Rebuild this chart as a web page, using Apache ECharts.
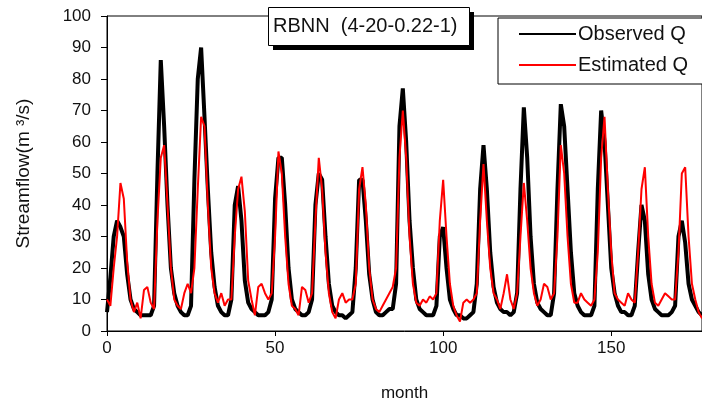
<!DOCTYPE html>
<html>
<head>
<meta charset="utf-8">
<script src="https://cdn.jsdelivr.net/npm/echarts@6/dist/echarts.min.js"></script>
<style>
html,body{margin:0;padding:0;background:#fff;}
#chart{width:702px;height:408px;}
</style>
</head>
<body>
<div id="chart"></div>
<script>
// Observed streamflow, months 0..177
const observed = [
  6,17,30,35,33,30,18,10,7,6,
  5,5,5,5,8,50,86,65,40,20,
  12,8,6,5,5,8,48,80,90,68,
  45,25,14,8,6,5,5,10,40,46,
  35,16,9,7,6,5,5,5,6,10,
  42,55,55,40,20,10,7,6,5,5,
  6,10,40,50,48,30,15,8,6,5,
  5,4,5,6,20,48,48,35,18,10,
  6,5,5,6,7,7,15,65,77,60,
  35,20,10,7,6,5,5,5,8,30,
  33,20,10,7,5,5,4,4,5,6,
  15,45,59,45,25,14,9,7,6,6,
  5,6,12,45,71,55,30,15,9,7,
  6,5,5,12,45,72,65,45,25,12,
  8,6,5,5,5,8,45,70,60,40,
  20,12,8,6,6,5,5,8,25,40,
  35,18,10,7,6,5,5,5,6,8,
  30,35,28,15,10,8,6,5
];
// Estimated streamflow, months 0..177
const estimated = [
  10,8,20,30,47,42,22,10,6,9,
  4,13,14,9,7,35,55,59,40,20,
  10,8,7,12,15,12,20,45,68,65,
  40,20,12,9,12,8,10,10,30,45,
  49,38,16,10,5,14,15,12,10,12,
  30,57,50,30,15,8,7,5,14,13,
  9,12,35,55,45,25,12,6,4,10,
  12,9,10,10,15,45,52,40,20,10,
  7,6,8,10,12,14,20,55,70,55,
  30,15,9,8,10,9,11,10,12,35,
  48,30,15,8,5,3,9,10,9,10,
  12,35,53,35,20,12,10,7,12,18,
  10,7,12,30,47,35,20,12,8,10,
  15,14,10,12,30,59,50,30,15,9,
  9,12,10,9,8,10,25,55,68,45,
  25,12,10,9,8,12,10,9,25,45,
  52,30,15,9,8,10,12,11,10,10,
  25,50,52,30,15,10,6,4
];
const xTicks = [0, 50, 100, 150];
const yTicks = [0,10,20,30,40,50,60,70,80,90,100];
const titleText = 'RBNN  (4-20-0.22-1)';
const seriesNames = ['Observed Q', 'Estimated Q'];

const obsData = observed.map((v, i) => [i, v]);
const estData = estimated.map((v, i) => [i, v]);
const FONT = '"Liberation Sans", Arial, sans-serif';

const chart = echarts.init(document.getElementById('chart'));
chart.setOption({
  animation: false,
  backgroundColor: '#fff',
  textStyle: { fontFamily: FONT, color: '#111' },
  graphic: {
    elements: [
      { type: 'rect', left: 273, top: 12, z: 100, silent: true,
        shape: { width: 201, height: 38 },
        style: { fill: '#000' } },
      { type: 'rect', left: 268, top: 7, z: 101, silent: true,
        shape: { width: 201, height: 38 },
        style: { fill: '#fff', stroke: '#000', lineWidth: 1 } }
    ]
  },
  title: {
    text: titleText,
    left: 268, top: 7, z: 200,
    padding: [9, 12, 9, 5],
    textStyle: { fontFamily: FONT, fontSize: 20, fontWeight: 'normal', color: '#111' }
  },
  legend: {
    data: seriesNames,
    orient: 'vertical',
    left: 498, top: 18,
    padding: [6, 20, 9, 20],
    itemGap: 11,
    itemWidth: 57, itemHeight: 14,
    itemStyle: { opacity: 0 },
    backgroundColor: '#fff',
    borderColor: '#000', borderWidth: 1,
    textStyle: { fontFamily: FONT, fontSize: 20, color: '#111', padding: [0,0,0,-3] }
  },
  grid: { left: 107, top: 16, right: -1, bottom: 77, show: true, borderColor: '#000', borderWidth: 1, backgroundColor: 'transparent' },
  xAxis: {
    type: 'value', min: 0, max: 177, interval: 50,
    name: 'month', nameLocation: 'middle', nameGap: 54,
    nameTextStyle: { fontFamily: FONT, fontSize: 17, color: '#111' },
    axisLine: { show: true, lineStyle: { color: '#000', width: 1 } },
    axisTick: { show: true, inside: false, length: 5, lineStyle: { color: '#000' } },
    axisLabel: { margin: 9, fontFamily: FONT, fontSize: 17, color: '#111', showMaxLabel: false,
      formatter: v => (xTicks.indexOf(v) >= 0 ? String(v) : '') },
    splitLine: { show: false }
  },
  yAxis: {
    type: 'value', min: 0, max: 100, interval: 10,
    name: 'Streamflow(m ³/s)', nameLocation: 'middle', nameGap: 74,
    nameTextStyle: { fontFamily: FONT, fontSize: 19, color: '#111' },
    axisLine: { show: true, lineStyle: { color: '#000', width: 1 } },
    axisTick: { show: true, inside: false, length: 6, lineStyle: { color: '#000' } },
    axisLabel: { margin: 16, fontFamily: FONT, fontSize: 17, color: '#111',
      formatter: v => (yTicks.indexOf(v) >= 0 ? String(v) : '') },
    splitLine: { show: false }
  },
  series: [
    {
      name: seriesNames[0], type: 'line', data: obsData,
      showSymbol: false, symbol: 'none',
      lineStyle: { color: '#000', width: 4 }, itemStyle: { color: '#000' }, z: 2
    },
    {
      name: seriesNames[1], type: 'line', data: estData,
      showSymbol: false, symbol: 'none',
      lineStyle: { color: '#ff0000', width: 2 }, itemStyle: { color: '#ff0000' }, z: 3
    }
  ]
});
</script>
</body>
</html>
